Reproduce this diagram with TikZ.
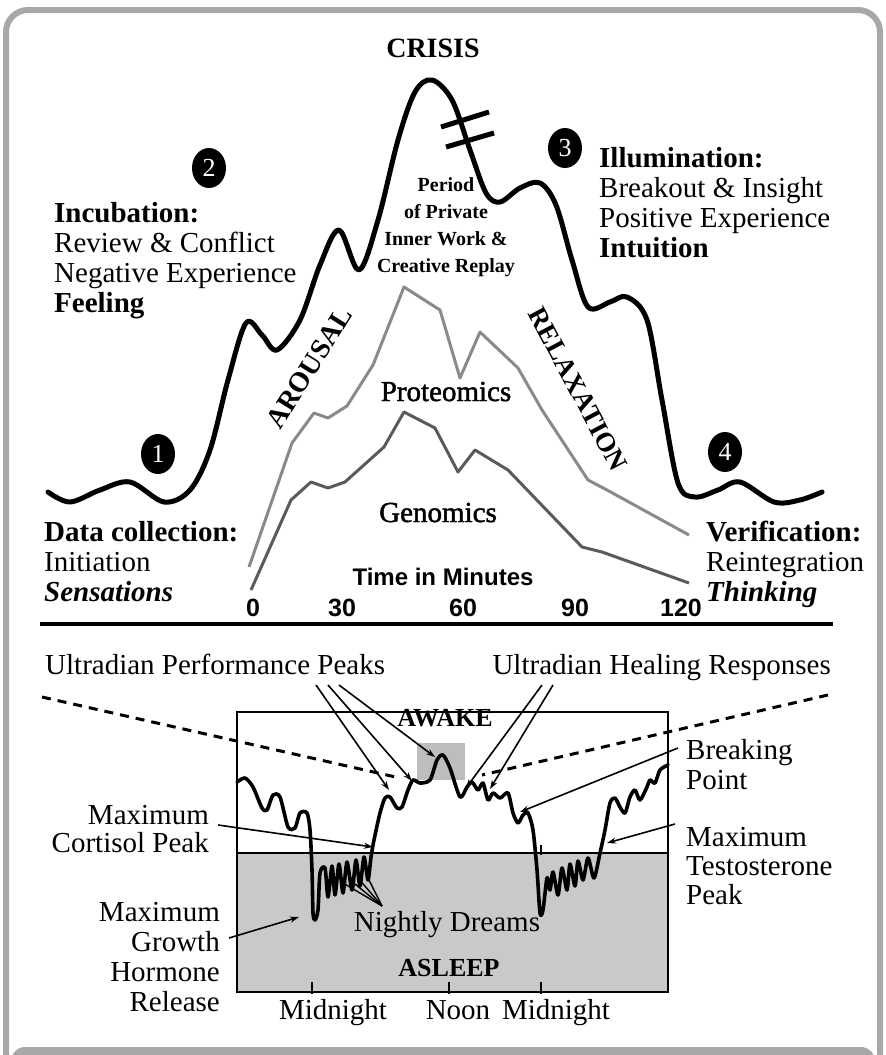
\documentclass[tikz,border=0pt]{standalone}
\usepackage{fontspec}
\setmainfont{Liberation Serif}
\newfontfamily\arialfont{Liberation Sans}
\newfontfamily\semib[FakeBold=1.6]{Liberation Serif}
\usetikzlibrary{arrows.meta,shapes.geometric}
\definecolor{framegray}{HTML}{A8A8A8}
\definecolor{protgray}{HTML}{8A8A8A}
\definecolor{genogray}{HTML}{5A5A5A}
\definecolor{sleepgray}{HTML}{C9C9C9}
\definecolor{peakgray}{HTML}{BDBDBD}
\begin{document}
\begin{tikzpicture}[x=1pt,y=-1pt,
  txt/.style={inner sep=0pt,font=\fontsize{29}{30}\selectfont},
  lbl/.style={txt,align=left,anchor=base west},
  rlbl/.style={txt,align=right,anchor=base east},
  numc/.style={ellipse,fill=black,minimum width=34pt,minimum height=40pt,inner sep=0pt,text=white,font=\fontsize{26}{26}\selectfont},
  bigcurve/.style={line width=5pt,line join=round,line cap=round},
  sleepcurve/.style={line width=3.6pt,line join=round,line cap=round},
  arr/.style={line width=1.6pt,-{Stealth[length=9pt,width=6pt]}},
  fan/.style={line width=1.4pt},
  dsh/.style={line width=3pt,dash pattern=on 9pt off 7pt},
  axnum/.style={inner sep=0pt,anchor=base,font=\arialfont\bfseries\fontsize{25}{25}\selectfont}
]
\useasboundingbox (0,0) rectangle (886,1055);
% frame
\draw[framegray,line width=6pt,rounded corners=22pt] (6,10) rectangle (880,1080);
\fill[framegray,rounded corners=14pt] (11,1047) rectangle (875,1090);
\fill[white] (0,1055) rectangle (886,1100);

% ---------- top panel ----------
\node[txt,anchor=base,font=\bfseries\fontsize{28}{28}\selectfont] (crisis) at (433,57) {CRISIS};

% gray curves
\draw[protgray,line width=3pt,line join=round] plot coordinates {(249,567) (292,443) (314,413) (328,418) (347,406) (373,365) (404,287) (440,310) (460,378) (480,332) (518,368) (542,410) (588,480) (607,490) (689,535)};
\draw[genogray,line width=3pt,line join=round] plot coordinates {(251,590) (291,500) (311,482) (328,488) (345,482) (384,447) (404,412) (435,428) (458,472) (475,450) (508,470) (582,547) (602,552) (689,583)};

% big black curve
\draw[bigcurve] plot[smooth,tension=0.55] coordinates {(48,492) (70,502) (100,490) (130,482) (164,502) (190,490) (210,450) (228,380) (246,323) (262,335) (277,350) (300,320) (320,265) (339,230) (359,270) (378,220) (398,140) (415,92) (432,80) (452,100) (470,150) (486,193) (500,202) (520,188) (540,183) (556,205) (572,260) (588,307) (610,302) (627,297) (647,320) (662,400) (678,483) (695,497) (718,490) (740,482) (774,502) (800,500) (822,492)};
% hash marks
\draw[line width=5pt] (441,127) -- (489,112);
\draw[line width=5pt] (446,147) -- (494,133);

% numbered circles
\node[numc] (n1) at (158,454) {1};
\node[numc] (n2) at (209,168) {2};
\node[numc] (n3) at (565,148) {3};
\node[numc] (n4) at (725,452) {4};

% side texts (base anchor = baseline of the last line)
\node[lbl] (incub) at (54,312) {\textbf{Incubation:}\\Review \& Conflict\\Negative Experience\\\textbf{Feeling}};
\node[lbl] (illum) at (599,257) {\textbf{Illumination:}\\Breakout \& Insight\\Positive Experience\\\textbf{Intuition}};
\node[lbl] (datac) at (44,601) {\textbf{Data collection:}\\Initiation\\\textbf{\textit{Sensations}}};
\node[lbl] (verif) at (706,601) {\textbf{Verification:}\\Reintegration\\\textbf{\textit{Thinking}}};
\node[txt,align=center,anchor=base,font=\bfseries\fontsize{20}{26.7}\selectfont] (period) at (446,272) {Period\\of Private\\Inner Work \&\\Creative Replay};

\node[txt,font=\bfseries\fontsize{28}{28}\selectfont,rotate=58] (arousal) at (309,368) {AROUSAL};
\node[txt,font=\bfseries\fontsize{27}{27}\selectfont,rotate=-62] (relax) at (578,389) {RELAXATION};

\node[txt,anchor=base,font=\semib\fontsize{29}{29}\selectfont] (prot) at (446,401) {Proteomics};
\node[txt,anchor=base,font=\semib\fontsize{29}{29}\selectfont] (geno) at (438,522) {Genomics};

\node[txt,anchor=base,font=\arialfont\bfseries\fontsize{24}{24}\selectfont] (time) at (443,585) {Time in Minutes};
\node[axnum] (t0) at (253,616) {0};
\node[axnum] (t30) at (342,616) {30};
\node[axnum] (t60) at (463,616) {60};
\node[axnum] (t90) at (575,616) {90};
\node[axnum] (t120) at (681,616) {120};

% separator
\coordinate (sepL) at (40,624);
\coordinate (sepR) at (833,624);
\draw[line width=4pt] (sepL) -- (sepR);

% ---------- bottom panel ----------
\fill[sleepgray] (237,853) rectangle (668,992);
\fill[peakgray] (417,743) rectangle (465,780);
\draw[line width=1.5pt] (237,712) rectangle (668,992);
\draw[line width=2.5pt] (237,853) -- (668,853);
% ticks
\foreach \tx in {312,449,541} \draw[line width=2.5pt] (\tx,982) -- (\tx,994);
\foreach \tx in {312,541} \draw[line width=2.5pt] (\tx,845) -- (\tx,855);

\node[txt,anchor=base,font=\bfseries\fontsize{26}{26}\selectfont] (awake) at (445,726) {AWAKE};
\node[txt,anchor=base,font=\bfseries\fontsize{26}{26}\selectfont] (asleep) at (449,976) {ASLEEP};

\node[txt,anchor=base] (mid1) at (333,1019) {Midnight};
\node[txt,anchor=base] (noon) at (458,1019) {Noon};
\node[txt,anchor=base] (mid2) at (556,1019) {Midnight};

\node[txt,anchor=base west] (uperf) at (45,674) {Ultradian Performance Peaks};
\node[txt,anchor=base east] (uheal) at (831,674) {Ultradian Healing Responses};

% dashed lines
\coordinate (dL1) at (42,697);
\coordinate (dL2) at (400,778);
\coordinate (dR1) at (828,695);
\coordinate (dR2) at (482,775);
\draw[dsh] (dL1) -- (dL2);
\draw[dsh] (dR1) -- (dR2);

% sleep curve
\draw[sleepcurve] plot[smooth,tension=0.45] coordinates {(237,782) (245,778) (253,787) (262,808) (267,810) (273,795) (280,797) (288,827) (295,828) (300,813) (307,813) (310,830) (312,870) (313,913) (315,920) (318,910) (320,873) (325,868) (328,897) (332,866) (335,895) (339,864) (343,893) (347,862) (352,890) (356,860) (360,886) (364,857) (368,880) (371,857) (374,840) (380,813) (385,798) (390,797) (397,808) (402,807) (408,790) (413,780) (420,783) (430,780) (437,760) (443,755) (450,768) (460,797) (467,787) (472,782) (478,790) (483,783) (488,800) (493,793) (500,798) (508,793) (513,813) (518,823) (523,815) (528,813) (533,830) (537,870) (540,913) (543,910) (547,878) (550,890) (553,872) (558,895) (562,868) (567,890) (570,864) (575,886) (578,861) (583,880) (588,858) (594,878) (600,853) (605,830) (610,803) (615,798) (620,807) (625,813) (630,797) (635,790) (640,800) (647,787) (650,780) (655,783) (660,770) (668,765)};

% labels with arrows (base anchor = baseline of the last line)
\node[rlbl,font=\fontsize{29}{28}\selectfont] (cort) at (209,852) {Maximum\\Cortisol Peak};
\node[rlbl,font=\fontsize{29}{29.7}\selectfont] (growth) at (220,1011) {Maximum\\Growth\\Hormone\\Release};
\node[lbl] (brk) at (686,789) {Breaking\\Point};
\node[lbl,font=\fontsize{29}{29}\selectfont] (testo) at (686,904) {Maximum\\Testosterone\\Peak};
\node[txt,anchor=base] (dreams) at (447,931) {Nightly Dreams};

\coordinate (cortS) at (218,825);  \coordinate (cortT) at (373,847);
\coordinate (growS) at (229,938);  \coordinate (growT) at (299,917);
\coordinate (brkS) at (678,748);   \coordinate (brkT) at (520,812);
\coordinate (tesS) at (675,824);   \coordinate (tesT) at (607,843);
\draw[arr] (cortS) -- (cortT);
\draw[arr] (growS) -- (growT);
\draw[arr] (brkS) -- (brkT);
\draw[arr] (tesS) -- (tesT);

% performance peaks arrows
\coordinate (pS1) at (316,685); \coordinate (pT1) at (389,790);
\coordinate (pS2) at (328,685); \coordinate (pT2) at (412,781);
\coordinate (pS3) at (339,685); \coordinate (pT3) at (435,757);
\draw[arr] (pS1) -- (pT1);
\draw[arr] (pS2) -- (pT2);
\draw[arr] (pS3) -- (pT3);
% healing responses arrows
\coordinate (hS1) at (542,685); \coordinate (hT1) at (466,788);
\coordinate (hS2) at (553,685); \coordinate (hT2) at (490,789);
\draw[arr] (hS1) -- (hT1);
\draw[arr] (hS2) -- (hT2);

% nightly dreams fan
\coordinate (fanS) at (382,906);
\foreach \fx/\fy in {343/883,350/880,358/878,367/876} \draw[fan] (fanS) -- (\fx,\fy);
\end{tikzpicture}
\end{document}
